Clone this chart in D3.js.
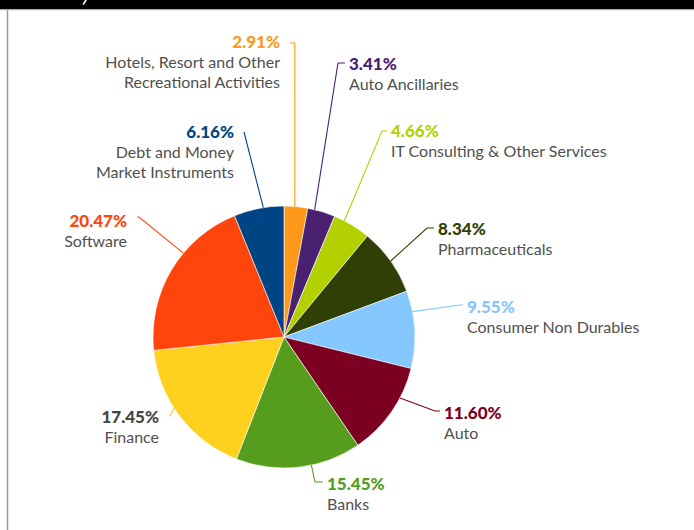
<!DOCTYPE html>
<html>
<head>
<meta charset="utf-8">
<script src="https://d3js.org/d3.v7.min.js"></script>
<style>
    body { margin: 0; background: #fff; }
    svg { display: block; }
</style>
</head>
<body>
<script>
// Portfolio split by industry, pie drawn clockwise from 12 o'clock.

var categories = [
    ["Hotels, Resort and Other", "Recreational Activities"],
    ["Auto Ancillaries"],
    ["IT Consulting & Other Services"],
    ["Pharmaceuticals"],
    ["Consumer Non Durables"],
    ["Auto"],
    ["Banks"],
    ["Finance"],
    ["Software"],
    ["Debt and Money", "Market Instruments"]
];
var values = [2.91, 3.41, 4.66, 8.34, 9.55, 11.60, 15.45, 17.45, 20.47, 6.16];
var valueLabels = ["2.91%", "3.41%", "4.66%", "8.34%", "9.55%", "11.60%",
                   "15.45%", "17.45%", "20.47%", "6.16%"];

var colors = ["#fd981a", "#4a2070", "#b3d000", "#303f05", "#84c8ff",
              "#7b0022", "#569d1e", "#fed11f", "#ff450c", "#004583"];
var pctColors = colors.slice();
pctColors[7] = "#444444";   // finance value is printed in grey

// label layout: value text x, baseline y, anchor, elbow x, elbow y,
// and where along the slice (0..1) the leader meets the rim
var labelLayout = [
    {x: 280, y: 48, anchor: "end", ex: 295, ey: 43, t: 0.45},
    {x: 349, y: 70, anchor: "start", ex: 338, ey: 63, t: 0.25},
    {x: 391, y: 137, anchor: "start", ex: 382, ey: 131, t: 0.28},
    {x: 438, y: 235, anchor: "start", ex: 427, ey: 228, t: 0.5},
    {x: 467, y: 313, anchor: "start", ex: 460, ey: 305, t: 0.27},
    {x: 444, y: 419, anchor: "start", ex: 435, ey: 411, t: 0.33},
    {x: 327, y: 490, anchor: "start", ex: 315, ey: 482, t: 0.40},
    {x: 159, y: 423, anchor: "end", ex: 170, ey: 416, t: 0.57},
    {x: 127, y: 227, anchor: "end", ex: 139, ey: 217, t: 0.62},
    {x: 234, y: 138, anchor: "end", ex: 244, ey: 132, t: 0.59}
];

var width = 694,
    height = 530,
    cx = 284,
    cy = 337,
    radius = 131;

var svg = d3.select("body").append("svg")
    .attr("width", width)
    .attr("height", height);

// frame: black band on top, thin grey rule on the left
svg.append("rect")
    .attr("x", 0).attr("y", 0)
    .attr("width", width).attr("height", 9.5)
    .attr("fill", "#000");
svg.append("line")
    .attr("x1", 0).attr("x2", width)
    .attr("y1", 10).attr("y2", 10)
    .attr("stroke", "#d8d8d8").attr("stroke-width", 1);
svg.append("line")
    .attr("x1", 7.5).attr("x2", 7.5)
    .attr("y1", 10).attr("y2", height)
    .attr("stroke", "#9a9a9a").attr("stroke-width", 1.5);
// tail of a title that sits above the visible area
svg.append("path")
    .attr("d", "M86,0 L83.5,4")
    .attr("stroke", "#fff")
    .attr("stroke-width", 1.6)
    .attr("stroke-linecap", "round");

var pie = d3.pie().sort(null).value(function (d) { return d; });
var arcs = pie(values);

var arc = d3.arc().innerRadius(0).outerRadius(radius);

var g = svg.append("g")
    .attr("transform", "translate(" + cx + "," + cy + ")");

g.selectAll("path.slice")
    .data(arcs)
    .enter()
    .append("path")
    .attr("class", "slice")
    .attr("d", arc)
    .attr("fill", function (d, i) { return colors[i]; })
    .attr("stroke", "#fff")
    .attr("stroke-width", 0.6);

// leader lines: rim point -> elbow -> short horizontal toward the text
svg.selectAll("polyline.leader")
    .data(arcs)
    .enter()
    .append("polyline")
    .attr("class", "leader")
    .attr("points", function (d, i) {
        var L = labelLayout[i];
        var a = d.startAngle + L.t * (d.endAngle - d.startAngle);
        var px = cx + radius * Math.sin(a),
            py = cy - radius * Math.cos(a);
        var ex = L.ex;
        if (i === 0) { ex = px; }
        var hx = L.anchor === "start" ? L.x - 4 : L.x + 10;
        return [[px, py], [ex, L.ey], [hx, L.ey]].join(" ");
    })
    .attr("fill", "none")
    .attr("stroke", function (d, i) { return colors[i]; })
    .attr("stroke-width", 1.1);

// value labels
svg.selectAll("text.pct")
    .data(arcs)
    .enter()
    .append("text")
    .attr("class", "pct")
    .attr("x", function (d, i) { return labelLayout[i].x; })
    .attr("y", function (d, i) { return labelLayout[i].y; })
    .attr("text-anchor", function (d, i) { return labelLayout[i].anchor; })
    .attr("font-family", "Lato, sans-serif")
    .attr("font-weight", 900)
    .attr("font-size", "17px")
    .attr("fill", function (d, i) { return pctColors[i]; })
    .text(function (d, i) { return valueLabels[i]; });

// category names under each value
var names = svg.selectAll("text.name")
    .data(arcs)
    .enter()
    .append("text")
    .attr("class", "name")
    .attr("x", function (d, i) { return labelLayout[i].x; })
    .attr("y", function (d, i) { return labelLayout[i].y + 20; })
    .attr("text-anchor", function (d, i) { return labelLayout[i].anchor; })
    .attr("font-family", "Lato, sans-serif")
    .attr("font-size", "16px")
    .attr("fill", "#505050");

names.selectAll("tspan")
    .data(function (d, i) {
        return categories[i].map(function (s) {
            return {s: s, x: labelLayout[i].x};
        });
    })
    .enter()
    .append("tspan")
    .attr("x", function (d) { return d.x; })
    .attr("dy", function (d, j) { return j === 0 ? 0 : 20; })
    .text(function (d) { return d.s; });
</script>
</body>
</html>
